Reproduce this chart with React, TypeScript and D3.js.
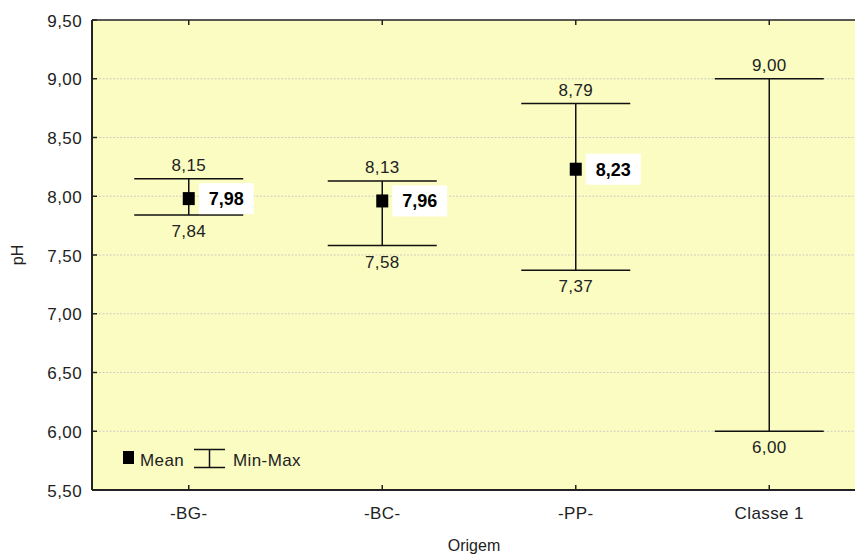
import React from "react";
import * as d3 from "d3";

// pH by origin: mean with min–max whiskers
const categories = ["-BG-", "-BC-", "-PP-", "Classe 1"];
const meanValues: (number | null)[] = [7.98, 7.96, 8.23, null];
const minValues = [7.84, 7.58, 7.37, 6.0];
const maxValues = [8.15, 8.13, 8.79, 9.0];
const yTicks = [5.5, 6.0, 6.5, 7.0, 7.5, 8.0, 8.5, 9.0, 9.5];

const W = 855;
const H = 555;
const margin = { left: 92, top: 20, bottom: 65 };
const plotRight = 866; // plot frame runs past the right edge of the canvas
const FONT = "Liberation Sans, Arial, Helvetica, sans-serif";
const LS = 0.4;

const fmt = (v: number) => v.toFixed(2).replace(".", ",");

export default function App() {
  const x = d3
    .scaleBand<string>()
    .domain(categories)
    .range([margin.left, plotRight])
    .padding(0);
  const y = d3
    .scaleLinear()
    .domain([5.5, 9.5])
    .range([H - margin.bottom, margin.top]);

  const cx = (c: string) => (x(c) as number) + x.bandwidth() / 2;
  const capHalf = 54.5;
  const y0 = y(5.5);
  const y1 = y(9.5);

  return (
    <svg
      width={W}
      height={H}
      style={{ position: "absolute", left: 0, top: 0, background: "#fff" }}
      fontFamily={FONT}
    >
      <defs>
        <clipPath id="canvas">
          <rect x={0} y={0} width={W} height={H} />
        </clipPath>
      </defs>
      <g clipPath="url(#canvas)">
        {/* plot background */}
        <rect x={margin.left} y={y1} width={plotRight - margin.left} height={y0 - y1} fill="#fafcc2" />

        {/* gridlines */}
        {yTicks.slice(1, -1).map((t) => (
          <line
            key={"g" + t}
            x1={margin.left}
            x2={plotRight}
            y1={y(t)}
            y2={y(t)}
            stroke="#c4c4c4"
            strokeWidth={0.8}
            strokeDasharray="2,1.5"
          />
        ))}

        {/* frame */}
        <line x1={margin.left} x2={plotRight} y1={y1} y2={y1} stroke="#222" strokeWidth={1.5} />
        <line x1={margin.left} x2={plotRight} y1={y0} y2={y0} stroke="#222" strokeWidth={2} />
        <line x1={margin.left} x2={margin.left} y1={y1} y2={y0} stroke="#222" strokeWidth={2} />

        {/* y ticks and labels */}
        {yTicks.map((t) => (
          <g key={"yt" + t}>
            <line x1={margin.left} x2={margin.left + 5} y1={y(t)} y2={y(t)} stroke="#222" strokeWidth={1.5} />
            <text
              x={82}
              y={y(t) + 6.5}
              textAnchor="end"
              fontSize={17}
              letterSpacing={LS}
              fill="#222"
            >
              {fmt(t)}
            </text>
          </g>
        ))}

        {/* x ticks and labels */}
        {categories.map((c) => (
          <g key={"xt" + c}>
            <line x1={cx(c)} x2={cx(c)} y1={y0} y2={y0 - 5} stroke="#222" strokeWidth={1.5} />
            <line x1={cx(c)} x2={cx(c)} y1={y1} y2={y1 + 5} stroke="#222" strokeWidth={1.5} />
            <text x={cx(c)} y={519} textAnchor="middle" fontSize={17} letterSpacing={LS} fill="#222">
              {c}
            </text>
          </g>
        ))}

        {/* axis titles */}
        <text x={474} y={551} textAnchor="middle" fontSize={16} fill="#222">
          Origem
        </text>
        <text
          transform={`translate(23,255) rotate(-90)`}
          textAnchor="middle"
          fontSize={16}
          fill="#222"
        >
          pH
        </text>

        {/* whiskers */}
        {categories.map((c, i) => {
          const xc = cx(c);
          const ymin = y(minValues[i]);
          const ymax = y(maxValues[i]);
          return (
            <g key={"w" + c}>
              <line x1={xc} x2={xc} y1={ymax} y2={ymin} stroke="#111" strokeWidth={1.5} />
              <line x1={xc - capHalf} x2={xc + capHalf} y1={ymax} y2={ymax} stroke="#111" strokeWidth={1.5} />
              <line x1={xc - capHalf} x2={xc + capHalf} y1={ymin} y2={ymin} stroke="#111" strokeWidth={1.5} />
              <text x={xc} y={ymax - 7.5} textAnchor="middle" fontSize={17} letterSpacing={LS} fill="#222">
                {fmt(maxValues[i])}
              </text>
              <text x={xc} y={ymin + 22} textAnchor="middle" fontSize={17} letterSpacing={LS} fill="#222">
                {fmt(minValues[i])}
              </text>
            </g>
          );
        })}

        {/* means with value boxes */}
        {categories.map((c, i) => {
          const m = meanValues[i];
          if (m == null) return null;
          const xc = cx(c);
          const ym = y(m);
          return (
            <g key={"m" + c}>
              <rect x={xc - 6} y={ym - 6.5} width={12} height={13} fill="#000" />
              <rect x={xc + 10} y={ym - 15.5} width={55} height={31} fill="#fff" />
              <text
                x={xc + 37.5}
                y={ym + 6.5}
                textAnchor="middle"
                fontSize={18}
                fontWeight="bold"
                fill="#000"
              >
                {fmt(m)}
              </text>
            </g>
          );
        })}

        {/* legend */}
        <g>
          <rect x={123} y={451} width={11} height={13} fill="#000" />
          <text x={140} y={466} fontSize={17} letterSpacing={LS} fill="#222">
            Mean
          </text>
          <line x1={194} x2={225} y1={449.5} y2={449.5} stroke="#111" strokeWidth={1.5} />
          <line x1={194} x2={225} y1={467.5} y2={467.5} stroke="#111" strokeWidth={1.5} />
          <line x1={209.5} x2={209.5} y1={449.5} y2={467.5} stroke="#111" strokeWidth={1.5} />
          <text x={233} y={466} fontSize={17} letterSpacing={LS} fill="#222">
            Min-Max
          </text>
        </g>
      </g>
    </svg>
  );
}
